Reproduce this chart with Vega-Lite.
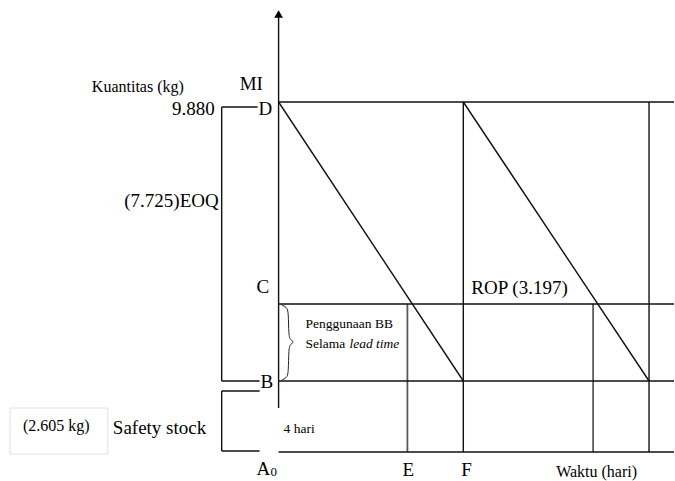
{
  "$schema": "https://vega.github.io/schema/vega-lite/v6.json",
  "width": 675,
  "height": 481,
  "padding": 0,
  "autosize": {"type": "fit", "contains": "padding"},
  "background": "white",
  "config": {"view": {"stroke": null}},
  "datasets": {
    "segments": [
      {"kind": "frame", "x": 279, "y": 17, "x2": 279, "y2": 408},
      {"kind": "frame", "x": 279, "y": 452, "x2": 675, "y2": 452},
      {"kind": "frame", "x": 279, "y": 102, "x2": 675, "y2": 102},
      {"kind": "frame", "x": 279, "y": 304, "x2": 675, "y2": 304},
      {"kind": "frame", "x": 279, "y": 381, "x2": 675, "y2": 381},
      {"kind": "frame", "x": 464, "y": 102, "x2": 464, "y2": 452},
      {"kind": "frame", "x": 650, "y": 102, "x2": 650, "y2": 452},
      {"kind": "frame", "x": 279, "y": 102, "x2": 464, "y2": 381},
      {"kind": "frame", "x": 464, "y": 102, "x2": 650, "y2": 381},
      {"kind": "frame", "x": 222, "y": 107, "x2": 258, "y2": 107},
      {"kind": "frame", "x": 222, "y": 107, "x2": 222, "y2": 381},
      {"kind": "frame", "x": 222, "y": 381, "x2": 260, "y2": 381},
      {"kind": "frame", "x": 222, "y": 391, "x2": 260, "y2": 391},
      {"kind": "frame", "x": 222, "y": 391, "x2": 222, "y2": 451},
      {"kind": "frame", "x": 222, "y": 451, "x2": 260, "y2": 451},
      {"kind": "lead", "x": 408, "y": 304, "x2": 408, "y2": 452},
      {"kind": "lead", "x": 594, "y": 304, "x2": 594, "y2": 452}
    ],
    "brace": [
      {"o": 1, "x": 282, "y": 305},
      {"o": 2, "x": 287, "y": 307},
      {"o": 3, "x": 289, "y": 312},
      {"o": 4, "x": 289, "y": 336},
      {"o": 5, "x": 291, "y": 340},
      {"o": 6, "x": 295, "y": 342},
      {"o": 7, "x": 291, "y": 344},
      {"o": 8, "x": 289, "y": 348},
      {"o": 9, "x": 289, "y": 373},
      {"o": 10, "x": 287, "y": 378},
      {"o": 11, "x": 282, "y": 380}
    ],
    "arrow": [{"x": 279, "y": 14}],
    "box": [{"x": 10, "y": 408, "x2": 108, "y2": 454}],
    "labels": [
      {"grp": "big", "x": 240, "y": 90, "t": "MI"},
      {"grp": "bigr", "x": 215, "y": 115, "t": "9.880"},
      {"grp": "big", "x": 259, "y": 115, "t": "D"},
      {"grp": "bigr", "x": 219, "y": 207, "t": "(7.725)EOQ"},
      {"grp": "big", "x": 257, "y": 293, "t": "C"},
      {"grp": "big", "x": 261, "y": 388, "t": "B"},
      {"grp": "big", "x": 472, "y": 294, "t": "ROP (3.197)"},
      {"grp": "big", "x": 113, "y": 434, "t": "Safety stock"},
      {"grp": "big", "x": 257, "y": 475, "t": "A"},
      {"grp": "big", "x": 403, "y": 476, "t": "E"},
      {"grp": "big", "x": 462, "y": 476, "t": "F"},
      {"grp": "mid", "x": 92, "y": 92, "t": "Kuantitas (kg)"},
      {"grp": "mid", "x": 23, "y": 431, "t": "(2.605 kg)"},
      {"grp": "mid", "x": 557, "y": 477, "t": "Waktu (hari)"},
      {"grp": "small", "x": 306, "y": 328, "t": "Penggunaan BB"},
      {"grp": "small", "x": 306, "y": 348, "t": "Selama"},
      {"grp": "small", "x": 284, "y": 433, "t": "4 hari"},
      {"grp": "sub", "x": 271, "y": 476, "t": "0"},
      {"grp": "ital", "x": 350, "y": 348, "t": "lead time"}
    ]
  },
  "layer": [
    {
      "data": {"name": "box"},
      "mark": {"type": "rect", "fill": null, "stroke": "#e2e2e2", "strokeWidth": 1},
      "encoding": {
        "x": {"field": "x", "type": "quantitative", "scale": {"domain": [0, 675]}, "axis": null},
        "x2": {"field": "x2"},
        "y": {"field": "y", "type": "quantitative", "scale": {"domain": [0, 481], "reverse": true}, "axis": null},
        "y2": {"field": "y2"}
      }
    },
    {
      "data": {"name": "segments"},
      "transform": [{"filter": "datum.kind == 'lead'"}],
      "mark": {"type": "rule", "color": "#5a5a5a", "strokeWidth": 1.8},
      "encoding": {
        "x": {"field": "x", "type": "quantitative", "scale": {"domain": [0, 675]}, "axis": null},
        "x2": {"field": "x2"},
        "y": {"field": "y", "type": "quantitative", "scale": {"domain": [0, 481], "reverse": true}, "axis": null},
        "y2": {"field": "y2"}
      }
    },
    {
      "data": {"name": "segments"},
      "transform": [{"filter": "datum.kind == 'frame'"}],
      "mark": {"type": "rule", "color": "#111111", "strokeWidth": 1.4},
      "encoding": {
        "x": {"field": "x", "type": "quantitative", "scale": {"domain": [0, 675]}, "axis": null},
        "x2": {"field": "x2"},
        "y": {"field": "y", "type": "quantitative", "scale": {"domain": [0, 481], "reverse": true}, "axis": null},
        "y2": {"field": "y2"}
      }
    },
    {
      "data": {"name": "brace"},
      "mark": {"type": "line", "color": "#222222", "strokeWidth": 1, "interpolate": "basis"},
      "encoding": {
        "x": {"field": "x", "type": "quantitative", "scale": {"domain": [0, 675]}, "axis": null},
        "y": {"field": "y", "type": "quantitative", "scale": {"domain": [0, 481], "reverse": true}, "axis": null},
        "order": {"field": "o", "type": "quantitative"}
      }
    },
    {
      "data": {"name": "arrow"},
      "mark": {"type": "point", "shape": "triangle-up", "filled": true, "color": "#000000", "size": 75, "opacity": 1},
      "encoding": {
        "x": {"field": "x", "type": "quantitative", "scale": {"domain": [0, 675]}, "axis": null},
        "y": {"field": "y", "type": "quantitative", "scale": {"domain": [0, 481], "reverse": true}, "axis": null}
      }
    },
    {
      "data": {"name": "labels"},
      "transform": [{"filter": "datum.grp == 'big'"}],
      "mark": {"type": "text", "font": "Times New Roman, Liberation Serif, serif", "fontSize": 19, "align": "left", "baseline": "alphabetic", "color": "#000000"},
      "encoding": {
        "x": {"field": "x", "type": "quantitative", "scale": {"domain": [0, 675]}, "axis": null},
        "y": {"field": "y", "type": "quantitative", "scale": {"domain": [0, 481], "reverse": true}, "axis": null},
        "text": {"field": "t"}
      }
    },
    {
      "data": {"name": "labels"},
      "transform": [{"filter": "datum.grp == 'bigr'"}],
      "mark": {"type": "text", "font": "Times New Roman, Liberation Serif, serif", "fontSize": 19, "align": "right", "baseline": "alphabetic", "color": "#000000"},
      "encoding": {
        "x": {"field": "x", "type": "quantitative", "scale": {"domain": [0, 675]}, "axis": null},
        "y": {"field": "y", "type": "quantitative", "scale": {"domain": [0, 481], "reverse": true}, "axis": null},
        "text": {"field": "t"}
      }
    },
    {
      "data": {"name": "labels"},
      "transform": [{"filter": "datum.grp == 'mid'"}],
      "mark": {"type": "text", "font": "Times New Roman, Liberation Serif, serif", "fontSize": 16, "align": "left", "baseline": "alphabetic", "color": "#000000"},
      "encoding": {
        "x": {"field": "x", "type": "quantitative", "scale": {"domain": [0, 675]}, "axis": null},
        "y": {"field": "y", "type": "quantitative", "scale": {"domain": [0, 481], "reverse": true}, "axis": null},
        "text": {"field": "t"}
      }
    },
    {
      "data": {"name": "labels"},
      "transform": [{"filter": "datum.grp == 'small'"}],
      "mark": {"type": "text", "font": "Times New Roman, Liberation Serif, serif", "fontSize": 13.5, "align": "left", "baseline": "alphabetic", "color": "#000000"},
      "encoding": {
        "x": {"field": "x", "type": "quantitative", "scale": {"domain": [0, 675]}, "axis": null},
        "y": {"field": "y", "type": "quantitative", "scale": {"domain": [0, 481], "reverse": true}, "axis": null},
        "text": {"field": "t"}
      }
    },
    {
      "data": {"name": "labels"},
      "transform": [{"filter": "datum.grp == 'ital'"}],
      "mark": {"type": "text", "font": "Times New Roman, Liberation Serif, serif", "fontSize": 13.5, "fontStyle": "italic", "align": "left", "baseline": "alphabetic", "color": "#000000"},
      "encoding": {
        "x": {"field": "x", "type": "quantitative", "scale": {"domain": [0, 675]}, "axis": null},
        "y": {"field": "y", "type": "quantitative", "scale": {"domain": [0, 481], "reverse": true}, "axis": null},
        "text": {"field": "t"}
      }
    },
    {
      "data": {"name": "labels"},
      "transform": [{"filter": "datum.grp == 'sub'"}],
      "mark": {"type": "text", "font": "Times New Roman, Liberation Serif, serif", "fontSize": 13, "align": "left", "baseline": "alphabetic", "color": "#000000"},
      "encoding": {
        "x": {"field": "x", "type": "quantitative", "scale": {"domain": [0, 675]}, "axis": null},
        "y": {"field": "y", "type": "quantitative", "scale": {"domain": [0, 481], "reverse": true}, "axis": null},
        "text": {"field": "t"}
      }
    }
  ]
}
